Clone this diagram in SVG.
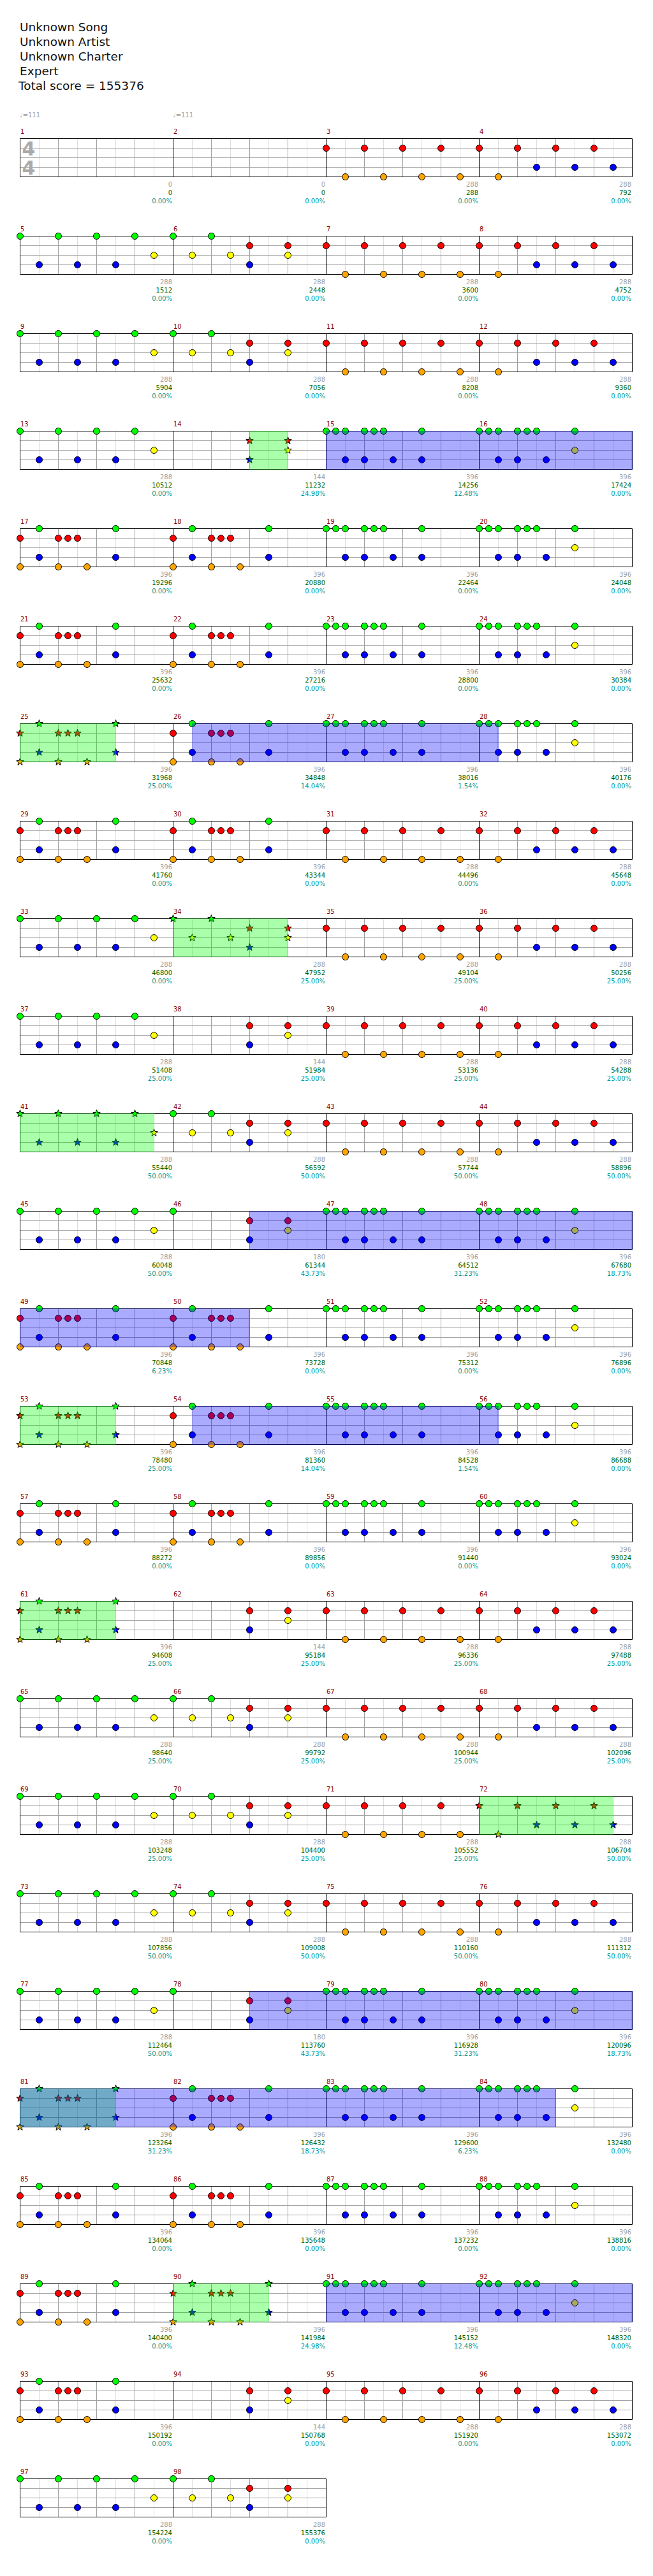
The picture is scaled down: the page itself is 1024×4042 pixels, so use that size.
<svg xmlns="http://www.w3.org/2000/svg" width="1024" height="4042" viewBox="0 0 1024 4042">
<style>
text{font-family:"DejaVu Sans","Liberation Sans",sans-serif}
.hd{font-size:18.5px;fill:#111}
.mn{font-size:10px;fill:#8b0000}
.s1{font-size:10px;fill:#a0a0a0;text-anchor:end}
.s2{font-size:10px;fill:#006400;text-anchor:end}
.s3{font-size:10px;fill:#009999;text-anchor:end}
.tp{font-size:10px;fill:#a0a0a0}
.ts{font-size:30px;font-weight:bold;fill:#aaa}
.lt{stroke:#ddd;stroke-width:1;fill:none}
.dk{stroke:#a0a0a0;stroke-width:1;fill:none}
.bl{stroke:#000;stroke-width:1;fill:none}
circle,.st{stroke:#000;stroke-width:1}
.g{fill:#0f0}.r{fill:#f00}.y{fill:#ff0}.b{fill:#00f}.o{fill:#ffa500}
.gs{fill:#0f0;fill-opacity:.333}
.bs{fill:#00f;fill-opacity:.333}
.se{stroke:#f00;stroke-opacity:.333;stroke-width:1}
</style>
<defs>
<polygon id="st" points="0,-6 1.47,-2.02 5.71,-1.85 2.38,0.77 3.53,4.85 0,2.5 -3.53,4.85 -2.38,0.77 -5.71,-1.85 -1.47,-2.02"/>
<g id="mg"><path class="lt" d="M30 0V60M90 0V60M150 0V60M210 0V60"/><path class="dk" d="M60 0V60M120 0V60M180 0V60M0 15H240M0 30H240M0 45H240"/></g>
<g id="r4"><use href="#mg"/><use href="#mg" x="240"/><use href="#mg" x="480"/><use href="#mg" x="720"/><path class="bl" d="M0 0H960V60H0ZM240 0V60M480 0V60M720 0V60"/></g>
<g id="r2"><use href="#mg"/><use href="#mg" x="240"/><path class="bl" d="M0 0H480V60H0ZM240 0V60"/></g>
<g id="pA"><circle class="r" cx="0" cy="15" r="5"/><circle class="r" cx="60" cy="15" r="5"/><circle class="r" cx="120" cy="15" r="5"/><circle class="r" cx="180" cy="15" r="5"/><circle class="o" cx="30" cy="60" r="5"/><circle class="o" cx="90" cy="60" r="5"/><circle class="o" cx="150" cy="60" r="5"/><circle class="o" cx="210" cy="60" r="5"/></g>
<g id="pB"><circle class="r" cx="0" cy="15" r="5"/><circle class="r" cx="60" cy="15" r="5"/><circle class="r" cx="120" cy="15" r="5"/><circle class="r" cx="180" cy="15" r="5"/><circle class="o" cx="30" cy="60" r="5"/><circle class="b" cx="90" cy="45" r="5"/><circle class="b" cx="150" cy="45" r="5"/><circle class="b" cx="210" cy="45" r="5"/></g>
<g id="sB"><use href="#st" class="r st" x="0" y="15"/><use href="#st" class="r st" x="60" y="15"/><use href="#st" class="r st" x="120" y="15"/><use href="#st" class="r st" x="180" y="15"/><use href="#st" class="o st" x="30" y="60"/><use href="#st" class="b st" x="90" y="45"/><use href="#st" class="b st" x="150" y="45"/><use href="#st" class="b st" x="210" y="45"/></g>
<g id="pC"><circle class="g" cx="0" cy="0" r="5"/><circle class="g" cx="60" cy="0" r="5"/><circle class="g" cx="120" cy="0" r="5"/><circle class="g" cx="180" cy="0" r="5"/><circle class="b" cx="30" cy="45" r="5"/><circle class="b" cx="90" cy="45" r="5"/><circle class="b" cx="150" cy="45" r="5"/><circle class="y" cx="210" cy="30" r="5"/></g>
<g id="sC"><use href="#st" class="g st" x="0" y="0"/><use href="#st" class="g st" x="60" y="0"/><use href="#st" class="g st" x="120" y="0"/><use href="#st" class="g st" x="180" y="0"/><use href="#st" class="b st" x="30" y="45"/><use href="#st" class="b st" x="90" y="45"/><use href="#st" class="b st" x="150" y="45"/><use href="#st" class="y st" x="210" y="30"/></g>
<g id="pD"><circle class="g" cx="0" cy="0" r="5"/><circle class="g" cx="60" cy="0" r="5"/><circle class="y" cx="30" cy="30" r="5"/><circle class="y" cx="90" cy="30" r="5"/><circle class="y" cx="180" cy="30" r="5"/><circle class="r" cx="120" cy="15" r="5"/><circle class="r" cx="180" cy="15" r="5"/><circle class="b" cx="120" cy="45" r="5"/></g>
<g id="sD"><use href="#st" class="g st" x="0" y="0"/><use href="#st" class="g st" x="60" y="0"/><use href="#st" class="y st" x="30" y="30"/><use href="#st" class="y st" x="90" y="30"/><use href="#st" class="y st" x="180" y="30"/><use href="#st" class="r st" x="120" y="15"/><use href="#st" class="r st" x="180" y="15"/><use href="#st" class="b st" x="120" y="45"/></g>
<g id="pE"><circle class="g" cx="0" cy="0" r="5"/><circle class="g" cx="15" cy="0" r="5"/><circle class="g" cx="30" cy="0" r="5"/><circle class="g" cx="60" cy="0" r="5"/><circle class="g" cx="75" cy="0" r="5"/><circle class="g" cx="90" cy="0" r="5"/><circle class="g" cx="150" cy="0" r="5"/><circle class="b" cx="30" cy="45" r="5"/><circle class="b" cx="60" cy="45" r="5"/><circle class="b" cx="105" cy="45" r="5"/><circle class="b" cx="150" cy="45" r="5"/></g>
<g id="pF"><circle class="g" cx="0" cy="0" r="5"/><circle class="g" cx="15" cy="0" r="5"/><circle class="g" cx="30" cy="0" r="5"/><circle class="g" cx="60" cy="0" r="5"/><circle class="g" cx="75" cy="0" r="5"/><circle class="g" cx="90" cy="0" r="5"/><circle class="g" cx="150" cy="0" r="5"/><circle class="b" cx="30" cy="45" r="5"/><circle class="b" cx="60" cy="45" r="5"/><circle class="b" cx="105" cy="45" r="5"/><circle class="y" cx="150" cy="30" r="5"/></g>
<g id="pG"><circle class="r" cx="0" cy="15" r="5"/><circle class="r" cx="60" cy="15" r="5"/><circle class="r" cx="75" cy="15" r="5"/><circle class="r" cx="90" cy="15" r="5"/><circle class="g" cx="30" cy="0" r="5"/><circle class="g" cx="150" cy="0" r="5"/><circle class="b" cx="30" cy="45" r="5"/><circle class="b" cx="150" cy="45" r="5"/><circle class="o" cx="0" cy="60" r="5"/><circle class="o" cx="60" cy="60" r="5"/><circle class="o" cx="105" cy="60" r="5"/></g>
<g id="sG"><use href="#st" class="r st" x="0" y="15"/><use href="#st" class="r st" x="60" y="15"/><use href="#st" class="r st" x="75" y="15"/><use href="#st" class="r st" x="90" y="15"/><use href="#st" class="g st" x="30" y="0"/><use href="#st" class="g st" x="150" y="0"/><use href="#st" class="b st" x="30" y="45"/><use href="#st" class="b st" x="150" y="45"/><use href="#st" class="o st" x="0" y="60"/><use href="#st" class="o st" x="60" y="60"/><use href="#st" class="o st" x="105" y="60"/></g>
<g id="pP"><circle class="r" cx="120" cy="15" r="5"/><circle class="r" cx="180" cy="15" r="5"/><circle class="b" cx="120" cy="45" r="5"/><circle class="y" cx="180" cy="30" r="5"/></g>
<g id="sP"><use href="#st" class="r st" x="120" y="15"/><use href="#st" class="r st" x="180" y="15"/><use href="#st" class="b st" x="120" y="45"/><use href="#st" class="y st" x="180" y="30"/></g>
<g id="pN"><circle class="g" cx="0" cy="0" r="5"/><use href="#pP"/></g>
</defs>
<rect width="1024" height="4042" fill="#fff"/>
<g id="header">
<text class="hd" x="31" y="49">Unknown Song</text>
<text class="hd" x="31" y="72">Unknown Artist</text>
<text class="hd" x="31" y="95">Unknown Charter</text>
<text class="hd" x="31" y="118">Expert</text>
<text class="hd" x="29" y="141">Total score = 155376</text>
<text class="tp" x="31" y="184">♩=111</text>
<text class="tp" x="271" y="184">♩=111</text>
</g>
<g id="staves" transform="translate(.5 .5)">
<use href="#r4" x="31" y="217"/><use href="#r4" x="31" y="370"/><use href="#r4" x="31" y="523"/><use href="#r4" x="31" y="676"/><use href="#r4" x="31" y="829"/><use href="#r4" x="31" y="982"/><use href="#r4" x="31" y="1135"/><use href="#r4" x="31" y="1288"/><use href="#r4" x="31" y="1441"/><use href="#r4" x="31" y="1594"/><use href="#r4" x="31" y="1747"/><use href="#r4" x="31" y="1900"/><use href="#r4" x="31" y="2053"/><use href="#r4" x="31" y="2206"/><use href="#r4" x="31" y="2359"/><use href="#r4" x="31" y="2512"/><use href="#r4" x="31" y="2665"/><use href="#r4" x="31" y="2818"/><use href="#r4" x="31" y="2971"/><use href="#r4" x="31" y="3124"/><use href="#r4" x="31" y="3277"/><use href="#r4" x="31" y="3430"/><use href="#r4" x="31" y="3583"/><use href="#r4" x="31" y="3736"/><use href="#r2" x="31" y="3889"/>
</g>
<g id="timesig"><text class="ts" x="34.5" y="244">4</text><text class="ts" x="34.5" y="274">4</text></g>
<g id="notes" transform="translate(.5 .5)">
<g id="m3"><use href="#pA" x="511" y="217"/></g><g id="m4"><use href="#pB" x="751" y="217"/></g>
<g id="m5"><use href="#pC" x="31" y="370"/></g><g id="m6"><use href="#pD" x="271" y="370"/></g><g id="m7"><use href="#pA" x="511" y="370"/></g><g id="m8"><use href="#pB" x="751" y="370"/></g>
<g id="m9"><use href="#pC" x="31" y="523"/></g><g id="m10"><use href="#pD" x="271" y="523"/></g><g id="m11"><use href="#pA" x="511" y="523"/></g><g id="m12"><use href="#pB" x="751" y="523"/></g>
<g id="m13"><use href="#pC" x="31" y="676"/></g><g id="m14"><use href="#sP" x="271" y="676"/></g><g id="m15"><use href="#pE" x="511" y="676"/></g><g id="m16"><use href="#pF" x="751" y="676"/></g>
<g id="m17"><use href="#pG" x="31" y="829"/></g><g id="m18"><use href="#pG" x="271" y="829"/></g><g id="m19"><use href="#pE" x="511" y="829"/></g><g id="m20"><use href="#pF" x="751" y="829"/></g>
<g id="m21"><use href="#pG" x="31" y="982"/></g><g id="m22"><use href="#pG" x="271" y="982"/></g><g id="m23"><use href="#pE" x="511" y="982"/></g><g id="m24"><use href="#pF" x="751" y="982"/></g>
<g id="m25"><use href="#sG" x="31" y="1135"/></g><g id="m26"><use href="#pG" x="271" y="1135"/></g><g id="m27"><use href="#pE" x="511" y="1135"/></g><g id="m28"><use href="#pF" x="751" y="1135"/></g>
<g id="m29"><use href="#pG" x="31" y="1288"/></g><g id="m30"><use href="#pG" x="271" y="1288"/></g><g id="m31"><use href="#pA" x="511" y="1288"/></g><g id="m32"><use href="#pB" x="751" y="1288"/></g>
<g id="m33"><use href="#pC" x="31" y="1441"/></g><g id="m34"><use href="#sD" x="271" y="1441"/></g><g id="m35"><use href="#pA" x="511" y="1441"/></g><g id="m36"><use href="#pB" x="751" y="1441"/></g>
<g id="m37"><use href="#pC" x="31" y="1594"/></g><g id="m38"><use href="#pP" x="271" y="1594"/></g><g id="m39"><use href="#pA" x="511" y="1594"/></g><g id="m40"><use href="#pB" x="751" y="1594"/></g>
<g id="m41"><use href="#sC" x="31" y="1747"/></g><g id="m42"><use href="#pD" x="271" y="1747"/></g><g id="m43"><use href="#pA" x="511" y="1747"/></g><g id="m44"><use href="#pB" x="751" y="1747"/></g>
<g id="m45"><use href="#pC" x="31" y="1900"/></g><g id="m46"><use href="#pN" x="271" y="1900"/></g><g id="m47"><use href="#pE" x="511" y="1900"/></g><g id="m48"><use href="#pF" x="751" y="1900"/></g>
<g id="m49"><use href="#pG" x="31" y="2053"/></g><g id="m50"><use href="#pG" x="271" y="2053"/></g><g id="m51"><use href="#pE" x="511" y="2053"/></g><g id="m52"><use href="#pF" x="751" y="2053"/></g>
<g id="m53"><use href="#sG" x="31" y="2206"/></g><g id="m54"><use href="#pG" x="271" y="2206"/></g><g id="m55"><use href="#pE" x="511" y="2206"/></g><g id="m56"><use href="#pF" x="751" y="2206"/></g>
<g id="m57"><use href="#pG" x="31" y="2359"/></g><g id="m58"><use href="#pG" x="271" y="2359"/></g><g id="m59"><use href="#pE" x="511" y="2359"/></g><g id="m60"><use href="#pF" x="751" y="2359"/></g>
<g id="m61"><use href="#sG" x="31" y="2512"/></g><g id="m62"><use href="#pP" x="271" y="2512"/></g><g id="m63"><use href="#pA" x="511" y="2512"/></g><g id="m64"><use href="#pB" x="751" y="2512"/></g>
<g id="m65"><use href="#pC" x="31" y="2665"/></g><g id="m66"><use href="#pD" x="271" y="2665"/></g><g id="m67"><use href="#pA" x="511" y="2665"/></g><g id="m68"><use href="#pB" x="751" y="2665"/></g>
<g id="m69"><use href="#pC" x="31" y="2818"/></g><g id="m70"><use href="#pD" x="271" y="2818"/></g><g id="m71"><use href="#pA" x="511" y="2818"/></g><g id="m72"><use href="#sB" x="751" y="2818"/></g>
<g id="m73"><use href="#pC" x="31" y="2971"/></g><g id="m74"><use href="#pD" x="271" y="2971"/></g><g id="m75"><use href="#pA" x="511" y="2971"/></g><g id="m76"><use href="#pB" x="751" y="2971"/></g>
<g id="m77"><use href="#pC" x="31" y="3124"/></g><g id="m78"><use href="#pN" x="271" y="3124"/></g><g id="m79"><use href="#pE" x="511" y="3124"/></g><g id="m80"><use href="#pF" x="751" y="3124"/></g>
<g id="m81"><use href="#sG" x="31" y="3277"/></g><g id="m82"><use href="#pG" x="271" y="3277"/></g><g id="m83"><use href="#pE" x="511" y="3277"/></g><g id="m84"><use href="#pF" x="751" y="3277"/></g>
<g id="m85"><use href="#pG" x="31" y="3430"/></g><g id="m86"><use href="#pG" x="271" y="3430"/></g><g id="m87"><use href="#pE" x="511" y="3430"/></g><g id="m88"><use href="#pF" x="751" y="3430"/></g>
<g id="m89"><use href="#pG" x="31" y="3583"/></g><g id="m90"><use href="#sG" x="271" y="3583"/></g><g id="m91"><use href="#pE" x="511" y="3583"/></g><g id="m92"><use href="#pF" x="751" y="3583"/></g>
<g id="m93"><use href="#pG" x="31" y="3736"/></g><g id="m94"><use href="#pP" x="271" y="3736"/></g><g id="m95"><use href="#pA" x="511" y="3736"/></g><g id="m96"><use href="#pB" x="751" y="3736"/></g>
<g id="m97"><use href="#pC" x="31" y="3889"/></g><g id="m98"><use href="#pD" x="271" y="3889"/></g>
</g>
<g id="sections">
<rect class="gs" x="391" y="676" width="61" height="61"/><rect class="bs" x="511" y="676" width="481" height="61"/><path class="se" d="M990.5 676V737"/>
<rect class="gs" x="31" y="1135" width="151" height="61"/><rect class="bs" x="301" y="1135" width="481" height="61"/><path class="se" d="M780.5 1135V1196"/>
<rect class="gs" x="271" y="1441" width="181" height="61"/>
<rect class="gs" x="31" y="1747" width="211" height="61"/>
<rect class="bs" x="391" y="1900" width="601" height="61"/><path class="se" d="M990.5 1900V1961"/>
<rect class="bs" x="31" y="2053" width="361" height="61"/><path class="se" d="M390.5 2053V2114"/>
<rect class="gs" x="31" y="2206" width="151" height="61"/><rect class="bs" x="301" y="2206" width="481" height="61"/><path class="se" d="M780.5 2206V2267"/>
<rect class="gs" x="31" y="2512" width="151" height="61"/>
<rect class="gs" x="751" y="2818" width="211" height="61"/>
<rect class="bs" x="391" y="3124" width="601" height="61"/><path class="se" d="M990.5 3124V3185"/>
<rect class="gs" x="31" y="3277" width="151" height="61"/><rect class="bs" x="31" y="3277" width="841" height="61"/><path class="se" d="M870.5 3277V3338"/>
<rect class="gs" x="271" y="3583" width="151" height="61"/><rect class="bs" x="511" y="3583" width="481" height="61"/><path class="se" d="M990.5 3583V3644"/>
</g>
<g id="labels">
<g id="row1"><text class="mn" y="210"><tspan x="32">1</tspan><tspan x="272">2</tspan><tspan x="512">3</tspan><tspan x="752">4</tspan></text>
<text class="s1" y="293"><tspan x="270">0</tspan><tspan x="510">0</tspan><tspan x="750">288</tspan><tspan x="990">288</tspan></text>
<text class="s2" y="306"><tspan x="270">0</tspan><tspan x="510">0</tspan><tspan x="750">288</tspan><tspan x="990">792</tspan></text>
<text class="s3" y="319"><tspan x="270">0.00%</tspan><tspan x="510">0.00%</tspan><tspan x="750">0.00%</tspan><tspan x="990">0.00%</tspan></text></g>
<g id="row2"><text class="mn" y="363"><tspan x="32">5</tspan><tspan x="272">6</tspan><tspan x="512">7</tspan><tspan x="752">8</tspan></text>
<text class="s1" y="446"><tspan x="270">288</tspan><tspan x="510">288</tspan><tspan x="750">288</tspan><tspan x="990">288</tspan></text>
<text class="s2" y="459"><tspan x="270">1512</tspan><tspan x="510">2448</tspan><tspan x="750">3600</tspan><tspan x="990">4752</tspan></text>
<text class="s3" y="472"><tspan x="270">0.00%</tspan><tspan x="510">0.00%</tspan><tspan x="750">0.00%</tspan><tspan x="990">0.00%</tspan></text></g>
<g id="row3"><text class="mn" y="516"><tspan x="32">9</tspan><tspan x="272">10</tspan><tspan x="512">11</tspan><tspan x="752">12</tspan></text>
<text class="s1" y="599"><tspan x="270">288</tspan><tspan x="510">288</tspan><tspan x="750">288</tspan><tspan x="990">288</tspan></text>
<text class="s2" y="612"><tspan x="270">5904</tspan><tspan x="510">7056</tspan><tspan x="750">8208</tspan><tspan x="990">9360</tspan></text>
<text class="s3" y="625"><tspan x="270">0.00%</tspan><tspan x="510">0.00%</tspan><tspan x="750">0.00%</tspan><tspan x="990">0.00%</tspan></text></g>
<g id="row4"><text class="mn" y="669"><tspan x="32">13</tspan><tspan x="272">14</tspan><tspan x="512">15</tspan><tspan x="752">16</tspan></text>
<text class="s1" y="752"><tspan x="270">288</tspan><tspan x="510">144</tspan><tspan x="750">396</tspan><tspan x="990">396</tspan></text>
<text class="s2" y="765"><tspan x="270">10512</tspan><tspan x="510">11232</tspan><tspan x="750">14256</tspan><tspan x="990">17424</tspan></text>
<text class="s3" y="778"><tspan x="270">0.00%</tspan><tspan x="510">24.98%</tspan><tspan x="750">12.48%</tspan><tspan x="990">0.00%</tspan></text></g>
<g id="row5"><text class="mn" y="822"><tspan x="32">17</tspan><tspan x="272">18</tspan><tspan x="512">19</tspan><tspan x="752">20</tspan></text>
<text class="s1" y="905"><tspan x="270">396</tspan><tspan x="510">396</tspan><tspan x="750">396</tspan><tspan x="990">396</tspan></text>
<text class="s2" y="918"><tspan x="270">19296</tspan><tspan x="510">20880</tspan><tspan x="750">22464</tspan><tspan x="990">24048</tspan></text>
<text class="s3" y="931"><tspan x="270">0.00%</tspan><tspan x="510">0.00%</tspan><tspan x="750">0.00%</tspan><tspan x="990">0.00%</tspan></text></g>
<g id="row6"><text class="mn" y="975"><tspan x="32">21</tspan><tspan x="272">22</tspan><tspan x="512">23</tspan><tspan x="752">24</tspan></text>
<text class="s1" y="1058"><tspan x="270">396</tspan><tspan x="510">396</tspan><tspan x="750">396</tspan><tspan x="990">396</tspan></text>
<text class="s2" y="1071"><tspan x="270">25632</tspan><tspan x="510">27216</tspan><tspan x="750">28800</tspan><tspan x="990">30384</tspan></text>
<text class="s3" y="1084"><tspan x="270">0.00%</tspan><tspan x="510">0.00%</tspan><tspan x="750">0.00%</tspan><tspan x="990">0.00%</tspan></text></g>
<g id="row7"><text class="mn" y="1128"><tspan x="32">25</tspan><tspan x="272">26</tspan><tspan x="512">27</tspan><tspan x="752">28</tspan></text>
<text class="s1" y="1211"><tspan x="270">396</tspan><tspan x="510">396</tspan><tspan x="750">396</tspan><tspan x="990">396</tspan></text>
<text class="s2" y="1224"><tspan x="270">31968</tspan><tspan x="510">34848</tspan><tspan x="750">38016</tspan><tspan x="990">40176</tspan></text>
<text class="s3" y="1237"><tspan x="270">25.00%</tspan><tspan x="510">14.04%</tspan><tspan x="750">1.54%</tspan><tspan x="990">0.00%</tspan></text></g>
<g id="row8"><text class="mn" y="1281"><tspan x="32">29</tspan><tspan x="272">30</tspan><tspan x="512">31</tspan><tspan x="752">32</tspan></text>
<text class="s1" y="1364"><tspan x="270">396</tspan><tspan x="510">396</tspan><tspan x="750">288</tspan><tspan x="990">288</tspan></text>
<text class="s2" y="1377"><tspan x="270">41760</tspan><tspan x="510">43344</tspan><tspan x="750">44496</tspan><tspan x="990">45648</tspan></text>
<text class="s3" y="1390"><tspan x="270">0.00%</tspan><tspan x="510">0.00%</tspan><tspan x="750">0.00%</tspan><tspan x="990">0.00%</tspan></text></g>
<g id="row9"><text class="mn" y="1434"><tspan x="32">33</tspan><tspan x="272">34</tspan><tspan x="512">35</tspan><tspan x="752">36</tspan></text>
<text class="s1" y="1517"><tspan x="270">288</tspan><tspan x="510">288</tspan><tspan x="750">288</tspan><tspan x="990">288</tspan></text>
<text class="s2" y="1530"><tspan x="270">46800</tspan><tspan x="510">47952</tspan><tspan x="750">49104</tspan><tspan x="990">50256</tspan></text>
<text class="s3" y="1543"><tspan x="270">0.00%</tspan><tspan x="510">25.00%</tspan><tspan x="750">25.00%</tspan><tspan x="990">25.00%</tspan></text></g>
<g id="row10"><text class="mn" y="1587"><tspan x="32">37</tspan><tspan x="272">38</tspan><tspan x="512">39</tspan><tspan x="752">40</tspan></text>
<text class="s1" y="1670"><tspan x="270">288</tspan><tspan x="510">144</tspan><tspan x="750">288</tspan><tspan x="990">288</tspan></text>
<text class="s2" y="1683"><tspan x="270">51408</tspan><tspan x="510">51984</tspan><tspan x="750">53136</tspan><tspan x="990">54288</tspan></text>
<text class="s3" y="1696"><tspan x="270">25.00%</tspan><tspan x="510">25.00%</tspan><tspan x="750">25.00%</tspan><tspan x="990">25.00%</tspan></text></g>
<g id="row11"><text class="mn" y="1740"><tspan x="32">41</tspan><tspan x="272">42</tspan><tspan x="512">43</tspan><tspan x="752">44</tspan></text>
<text class="s1" y="1823"><tspan x="270">288</tspan><tspan x="510">288</tspan><tspan x="750">288</tspan><tspan x="990">288</tspan></text>
<text class="s2" y="1836"><tspan x="270">55440</tspan><tspan x="510">56592</tspan><tspan x="750">57744</tspan><tspan x="990">58896</tspan></text>
<text class="s3" y="1849"><tspan x="270">50.00%</tspan><tspan x="510">50.00%</tspan><tspan x="750">50.00%</tspan><tspan x="990">50.00%</tspan></text></g>
<g id="row12"><text class="mn" y="1893"><tspan x="32">45</tspan><tspan x="272">46</tspan><tspan x="512">47</tspan><tspan x="752">48</tspan></text>
<text class="s1" y="1976"><tspan x="270">288</tspan><tspan x="510">180</tspan><tspan x="750">396</tspan><tspan x="990">396</tspan></text>
<text class="s2" y="1989"><tspan x="270">60048</tspan><tspan x="510">61344</tspan><tspan x="750">64512</tspan><tspan x="990">67680</tspan></text>
<text class="s3" y="2002"><tspan x="270">50.00%</tspan><tspan x="510">43.73%</tspan><tspan x="750">31.23%</tspan><tspan x="990">18.73%</tspan></text></g>
<g id="row13"><text class="mn" y="2046"><tspan x="32">49</tspan><tspan x="272">50</tspan><tspan x="512">51</tspan><tspan x="752">52</tspan></text>
<text class="s1" y="2129"><tspan x="270">396</tspan><tspan x="510">396</tspan><tspan x="750">396</tspan><tspan x="990">396</tspan></text>
<text class="s2" y="2142"><tspan x="270">70848</tspan><tspan x="510">73728</tspan><tspan x="750">75312</tspan><tspan x="990">76896</tspan></text>
<text class="s3" y="2155"><tspan x="270">6.23%</tspan><tspan x="510">0.00%</tspan><tspan x="750">0.00%</tspan><tspan x="990">0.00%</tspan></text></g>
<g id="row14"><text class="mn" y="2199"><tspan x="32">53</tspan><tspan x="272">54</tspan><tspan x="512">55</tspan><tspan x="752">56</tspan></text>
<text class="s1" y="2282"><tspan x="270">396</tspan><tspan x="510">396</tspan><tspan x="750">396</tspan><tspan x="990">396</tspan></text>
<text class="s2" y="2295"><tspan x="270">78480</tspan><tspan x="510">81360</tspan><tspan x="750">84528</tspan><tspan x="990">86688</tspan></text>
<text class="s3" y="2308"><tspan x="270">25.00%</tspan><tspan x="510">14.04%</tspan><tspan x="750">1.54%</tspan><tspan x="990">0.00%</tspan></text></g>
<g id="row15"><text class="mn" y="2352"><tspan x="32">57</tspan><tspan x="272">58</tspan><tspan x="512">59</tspan><tspan x="752">60</tspan></text>
<text class="s1" y="2435"><tspan x="270">396</tspan><tspan x="510">396</tspan><tspan x="750">396</tspan><tspan x="990">396</tspan></text>
<text class="s2" y="2448"><tspan x="270">88272</tspan><tspan x="510">89856</tspan><tspan x="750">91440</tspan><tspan x="990">93024</tspan></text>
<text class="s3" y="2461"><tspan x="270">0.00%</tspan><tspan x="510">0.00%</tspan><tspan x="750">0.00%</tspan><tspan x="990">0.00%</tspan></text></g>
<g id="row16"><text class="mn" y="2505"><tspan x="32">61</tspan><tspan x="272">62</tspan><tspan x="512">63</tspan><tspan x="752">64</tspan></text>
<text class="s1" y="2588"><tspan x="270">396</tspan><tspan x="510">144</tspan><tspan x="750">288</tspan><tspan x="990">288</tspan></text>
<text class="s2" y="2601"><tspan x="270">94608</tspan><tspan x="510">95184</tspan><tspan x="750">96336</tspan><tspan x="990">97488</tspan></text>
<text class="s3" y="2614"><tspan x="270">25.00%</tspan><tspan x="510">25.00%</tspan><tspan x="750">25.00%</tspan><tspan x="990">25.00%</tspan></text></g>
<g id="row17"><text class="mn" y="2658"><tspan x="32">65</tspan><tspan x="272">66</tspan><tspan x="512">67</tspan><tspan x="752">68</tspan></text>
<text class="s1" y="2741"><tspan x="270">288</tspan><tspan x="510">288</tspan><tspan x="750">288</tspan><tspan x="990">288</tspan></text>
<text class="s2" y="2754"><tspan x="270">98640</tspan><tspan x="510">99792</tspan><tspan x="750">100944</tspan><tspan x="990">102096</tspan></text>
<text class="s3" y="2767"><tspan x="270">25.00%</tspan><tspan x="510">25.00%</tspan><tspan x="750">25.00%</tspan><tspan x="990">25.00%</tspan></text></g>
<g id="row18"><text class="mn" y="2811"><tspan x="32">69</tspan><tspan x="272">70</tspan><tspan x="512">71</tspan><tspan x="752">72</tspan></text>
<text class="s1" y="2894"><tspan x="270">288</tspan><tspan x="510">288</tspan><tspan x="750">288</tspan><tspan x="990">288</tspan></text>
<text class="s2" y="2907"><tspan x="270">103248</tspan><tspan x="510">104400</tspan><tspan x="750">105552</tspan><tspan x="990">106704</tspan></text>
<text class="s3" y="2920"><tspan x="270">25.00%</tspan><tspan x="510">25.00%</tspan><tspan x="750">25.00%</tspan><tspan x="990">50.00%</tspan></text></g>
<g id="row19"><text class="mn" y="2964"><tspan x="32">73</tspan><tspan x="272">74</tspan><tspan x="512">75</tspan><tspan x="752">76</tspan></text>
<text class="s1" y="3047"><tspan x="270">288</tspan><tspan x="510">288</tspan><tspan x="750">288</tspan><tspan x="990">288</tspan></text>
<text class="s2" y="3060"><tspan x="270">107856</tspan><tspan x="510">109008</tspan><tspan x="750">110160</tspan><tspan x="990">111312</tspan></text>
<text class="s3" y="3073"><tspan x="270">50.00%</tspan><tspan x="510">50.00%</tspan><tspan x="750">50.00%</tspan><tspan x="990">50.00%</tspan></text></g>
<g id="row20"><text class="mn" y="3117"><tspan x="32">77</tspan><tspan x="272">78</tspan><tspan x="512">79</tspan><tspan x="752">80</tspan></text>
<text class="s1" y="3200"><tspan x="270">288</tspan><tspan x="510">180</tspan><tspan x="750">396</tspan><tspan x="990">396</tspan></text>
<text class="s2" y="3213"><tspan x="270">112464</tspan><tspan x="510">113760</tspan><tspan x="750">116928</tspan><tspan x="990">120096</tspan></text>
<text class="s3" y="3226"><tspan x="270">50.00%</tspan><tspan x="510">43.73%</tspan><tspan x="750">31.23%</tspan><tspan x="990">18.73%</tspan></text></g>
<g id="row21"><text class="mn" y="3270"><tspan x="32">81</tspan><tspan x="272">82</tspan><tspan x="512">83</tspan><tspan x="752">84</tspan></text>
<text class="s1" y="3353"><tspan x="270">396</tspan><tspan x="510">396</tspan><tspan x="750">396</tspan><tspan x="990">396</tspan></text>
<text class="s2" y="3366"><tspan x="270">123264</tspan><tspan x="510">126432</tspan><tspan x="750">129600</tspan><tspan x="990">132480</tspan></text>
<text class="s3" y="3379"><tspan x="270">31.23%</tspan><tspan x="510">18.73%</tspan><tspan x="750">6.23%</tspan><tspan x="990">0.00%</tspan></text></g>
<g id="row22"><text class="mn" y="3423"><tspan x="32">85</tspan><tspan x="272">86</tspan><tspan x="512">87</tspan><tspan x="752">88</tspan></text>
<text class="s1" y="3506"><tspan x="270">396</tspan><tspan x="510">396</tspan><tspan x="750">396</tspan><tspan x="990">396</tspan></text>
<text class="s2" y="3519"><tspan x="270">134064</tspan><tspan x="510">135648</tspan><tspan x="750">137232</tspan><tspan x="990">138816</tspan></text>
<text class="s3" y="3532"><tspan x="270">0.00%</tspan><tspan x="510">0.00%</tspan><tspan x="750">0.00%</tspan><tspan x="990">0.00%</tspan></text></g>
<g id="row23"><text class="mn" y="3576"><tspan x="32">89</tspan><tspan x="272">90</tspan><tspan x="512">91</tspan><tspan x="752">92</tspan></text>
<text class="s1" y="3659"><tspan x="270">396</tspan><tspan x="510">396</tspan><tspan x="750">396</tspan><tspan x="990">396</tspan></text>
<text class="s2" y="3672"><tspan x="270">140400</tspan><tspan x="510">141984</tspan><tspan x="750">145152</tspan><tspan x="990">148320</tspan></text>
<text class="s3" y="3685"><tspan x="270">0.00%</tspan><tspan x="510">24.98%</tspan><tspan x="750">12.48%</tspan><tspan x="990">0.00%</tspan></text></g>
<g id="row24"><text class="mn" y="3729"><tspan x="32">93</tspan><tspan x="272">94</tspan><tspan x="512">95</tspan><tspan x="752">96</tspan></text>
<text class="s1" y="3812"><tspan x="270">396</tspan><tspan x="510">144</tspan><tspan x="750">288</tspan><tspan x="990">288</tspan></text>
<text class="s2" y="3825"><tspan x="270">150192</tspan><tspan x="510">150768</tspan><tspan x="750">151920</tspan><tspan x="990">153072</tspan></text>
<text class="s3" y="3838"><tspan x="270">0.00%</tspan><tspan x="510">0.00%</tspan><tspan x="750">0.00%</tspan><tspan x="990">0.00%</tspan></text></g>
<g id="row25"><text class="mn" y="3882"><tspan x="32">97</tspan><tspan x="272">98</tspan></text>
<text class="s1" y="3965"><tspan x="270">288</tspan><tspan x="510">288</tspan></text>
<text class="s2" y="3978"><tspan x="270">154224</tspan><tspan x="510">155376</tspan></text>
<text class="s3" y="3991"><tspan x="270">0.00%</tspan><tspan x="510">0.00%</tspan></text></g>
</g>
</svg>
